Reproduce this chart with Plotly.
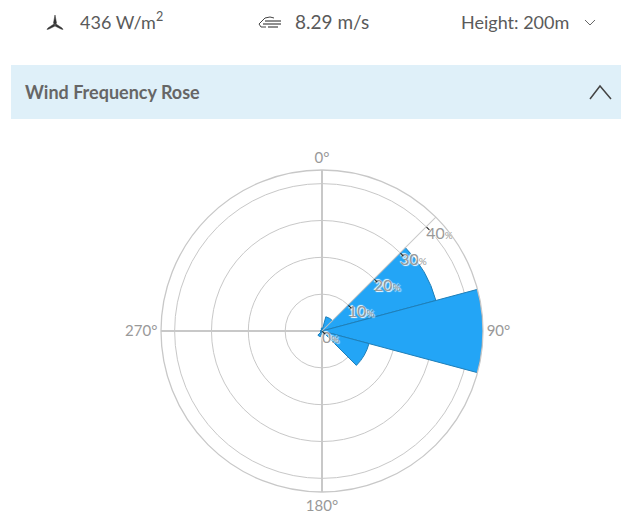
import plotly.graph_objects as go

WIDTH = 621
HEIGHT = 514

directions = [0, 30, 60, 90, 120, 150, 180, 210, 240, 270, 300, 330]
frequency = [0.8, 4.0, 32.0, 43.7, 13.2, 0.8, 1.0, 1.6, 0.4, 0.4, 0.4, 0.4]
radial_ticks = [0, 10, 20, 30, 40]
radial_labels = [f'{v}<span style="font-size:10px">%</span>' for v in radial_ticks]
radial_angle = 45
angle_ticks = [0, 90, 180, 270]
angle_labels = ["0°", "90°", "180°", "270°"]

TEXT = "#5a5a5a"
GRID = "#c8c8c8"
TICK = "#999999"
BAR = "#23a5f6"
BAR_EDGE = "#1f7fb8"
BAND = "#dff0f9"
FONT = "Lato"


def px(x):
    return x / WIDTH


def py(y):
    return 1 - y / HEIGHT


def path(points, close=False):
    cmds = [f"{'M' if i == 0 else 'L'} {px(x):.5f} {py(y):.5f}" for i, (x, y) in enumerate(points)]
    return " ".join(cmds) + (" Z" if close else "")


def line_shape(points, color=TEXT, width=1.5):
    return dict(type="path", xref="paper", yref="paper", path=path(points), line=dict(color=color, width=width))


def fill_shape(points, color=TEXT):
    return dict(type="path", xref="paper", yref="paper", path=path(points, True),
                fillcolor=color, line=dict(color=color, width=0.5))


def label(x, y, text, size=18, anchor="left", color=TEXT):
    return dict(xref="paper", yref="paper", x=px(x), y=py(y), text=text, showarrow=False,
                xanchor=anchor, yanchor="middle", font=dict(family=FONT, size=size, color=color))


fig = go.Figure(
    go.Barpolar(
        r=frequency,
        theta=directions,
        width=[30] * len(directions),
        marker=dict(color=BAR, line=dict(color=BAR_EDGE, width=1)),
    )
)
# radial labels sit closer to the axis than tick labels can, so they are a text trace
fig.add_trace(
    go.Scatterpolar(
        r=radial_ticks,
        theta=[radial_angle] * len(radial_ticks),
        mode="text",
        text=radial_labels,
        textposition="bottom right",
        textfont=dict(family=FONT, size=16, color=TICK, shadow="white 1px 1px 1px, white -1px -1px 1px"),
        hoverinfo="skip",
    )
)

shapes = [
    dict(type="rect", xref="paper", yref="paper", x0=px(11), x1=px(621), y0=py(65), y1=py(119),
         fillcolor=BAND, line=dict(width=0), layer="below"),
    # header chevron
    line_shape([(590, 99), (600, 86), (611, 99)], "#444444", 1.5),
    # height dropdown chevron
    line_shape([(585, 20), (590, 25), (595, 20)], "#666666", 1),
    # turbine icon
    fill_shape([(55, 15), (56.5, 23), (55, 25), (53.5, 23)], "#333333"),
    fill_shape([(54, 24), (55, 26), (49, 29), (47, 29.5), (48, 28)], "#333333"),
    fill_shape([(56, 24), (55, 26), (61, 29), (63, 29.5), (62, 28)], "#333333"),
    # wind icon
    line_shape([(266, 27), (261, 27), (259, 24), (262, 21), (265, 18), (270, 17), (274, 18)], "#444444", 1),
    line_shape([(263, 24), (281, 24)], "#444444", 1.2),
    line_shape([(265, 21), (281, 21)], "#444444", 1.2),
    line_shape([(268, 27), (278, 27)], "#444444", 1.2),
]

annotations = [
    label(78, 21, "436 W/m<sup>2</sup>"),
    label(293, 22, "8.29 m/s", 19),
    label(459, 22, "Height: 200m"),
    label(23, 92, "<b>Wind Frequency Rose</b>", 18, color="#666666"),
]

fig.update_layout(
    width=WIDTH,
    height=HEIGHT,
    margin=dict(l=0, r=0, t=0, b=0),
    paper_bgcolor="white",
    showlegend=False,
    shapes=shapes,
    annotations=annotations,
    font=dict(family=FONT),
    polar=dict(
        domain=dict(x=[px(161), px(483)], y=[py(492), py(170)]),
        bgcolor="white",
        radialaxis=dict(
            range=[0, 43.7],
            angle=radial_angle,
            tickvals=radial_ticks,
            showticklabels=False,
            ticks="outside",
            ticklen=4,
            tickcolor="#222222",
            gridcolor=GRID,
            gridwidth=1.3,
            linecolor=GRID,
            linewidth=1,
        ),
        angularaxis=dict(
            rotation=90,
            direction="clockwise",
            tickvals=angle_ticks,
            ticktext=angle_labels,
            tickfont=dict(size=15, color=TICK),
            ticks="",
            gridcolor=GRID,
            gridwidth=1.8,
            linecolor=GRID,
            linewidth=1.3,
            showline=True,
        ),
    ),
)

fig.write_html("out.html", config={"displayModeBar": False}, post_script="document.body.style.margin='0';")
